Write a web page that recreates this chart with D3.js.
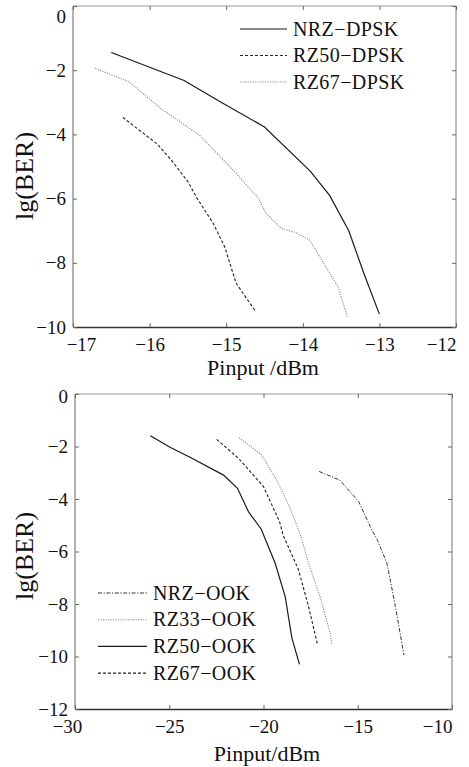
<!DOCTYPE html>
<html>
<head>
<meta charset="utf-8">
<script src="https://cdn.jsdelivr.net/npm/d3@7"></script>
<style>
  body { margin: 0; background: #fff; }
  svg { display: block; }
</style>
</head>
<body>
<script>
// top panel: DPSK
const dpskNames = ['NRZ-DPSK', 'RZ50-DPSK', 'RZ67-DPSK']
const nrzDpskX = [-16.5, -15.55, -15.05, -14.5, -13.9, -13.65, -13.4, -13.2, -13.0]
const nrzDpskY = [-1.45, -2.32, -3.02, -3.77, -5.15, -5.9, -7.0, -8.35, -9.6]
const rz50DpskX = [-16.35, -15.9, -15.7, -15.5, -15.38, -15.17, -15.02, -14.87, -14.62]
const rz50DpskY = [-3.47, -4.3, -4.85, -5.47, -5.99, -6.77, -7.5, -8.64, -9.5]
const rz67DpskX = [-16.71, -16.27, -15.85, -15.35, -14.87, -14.58, -14.48, -14.28, -14.1, -13.91, -13.78, -13.54, -13.42]
const rz67DpskY = [-1.94, -2.36, -3.2, -4.02, -5.21, -5.99, -6.46, -6.93, -7.05, -7.29, -7.81, -8.74, -9.68]
const dpskXTicks = [-17, -16, -15, -14, -13, -12]
const dpskYTicks = [-10, -8, -6, -4, -2, 0]

// bottom panel: OOK
const ookNames = ['NRZ-OOK', 'RZ33-OOK', 'RZ50-OOK', 'RZ67-OOK']
const nrzOokX = [-17.05, -15.95, -14.95, -14.25, -13.95, -13.45, -13.0, -12.55]
const nrzOokY = [-2.95, -3.28, -4.1, -5.18, -5.58, -6.45, -8.1, -9.95]
const rz33OokX = [-21.3, -20.1, -19.3, -18.62, -18.14, -17.96, -17.61, -17.0, -16.46, -16.37]
const rz33OokY = [-1.66, -2.32, -3.28, -4.29, -5.18, -5.56, -6.45, -7.72, -9.12, -9.56]
const rz50OokX = [-26.0, -24.96, -23.9, -22.12, -21.38, -20.8, -20.12, -19.38, -18.85, -18.49, -18.09]
const rz50OokY = [-1.59, -2.03, -2.41, -3.09, -3.59, -4.48, -5.15, -6.45, -7.72, -9.31, -10.3]
const rz67OokX = [-22.48, -21.33, -20.0, -19.15, -18.95, -18.41, -18.14, -17.61, -17.13]
const rz67OokY = [-1.73, -2.45, -3.53, -4.86, -5.4, -6.26, -6.7, -8.1, -9.56]
const ookXTicks = [-30, -25, -20, -15, -10]
const ookYTicks = [-12, -10, -8, -6, -4, -2, 0]

const FONT = '"Liberation Serif", "Times New Roman", serif'
const styles = {
  solid: { stroke: '#1a1a1a', dash: null, w: 1.2 },
  dashed: { stroke: '#222', dash: '3,2', w: 1.1 },
  dotted: { stroke: '#8a8a8a', dash: '1.2,1.3', w: 1.1 },
  dashdot: { stroke: '#333', dash: '4,1.6,1.2,1.6', w: 1 }
}

const svg = d3.select('body').append('svg')
  .attr('width', 469)
  .attr('height', 767)
  .attr('font-family', FONT)
  .style('font-family', FONT)

const zip = (xs, ys) => xs.map((x, i) => [x, ys[i]])
const minus = d => String(d).replace('-', '\u2212')

const label = (sel, size) => sel
  .attr('font-size', size)
  .attr('fill', '#111')
  .style('font-family', FONT)

const panel = cfg => {
  const x = d3.scaleLinear().domain(cfg.xDomain).range(cfg.xRange)
  const y = d3.scaleLinear().domain(cfg.yDomain).range(cfg.yRange)
  const g = svg.append('g')
  const [x0, x1] = cfg.xRange
  const [y0, y1] = cfg.yRange

  // frame
  g.append('line').attr('x1', x0).attr('x2', x1).attr('y1', y1).attr('y2', y1).attr('stroke', '#999')
  g.append('line').attr('x1', x1).attr('x2', x1).attr('y1', y0).attr('y2', y1).attr('stroke', '#777')
  g.append('line').attr('x1', x0).attr('x2', x0).attr('y1', y0).attr('y2', y1).attr('stroke', '#999').attr('stroke-width', 1.5)

  const xAxis = d3.axisBottom(x).tickValues(cfg.xTicks).tickSizeInner(-4).tickSizeOuter(0)
    .tickPadding(10).tickFormat(minus)
  const gx = g.append('g').attr('transform', `translate(0,${y0})`).call(xAxis)
    .attr('font-family', null).attr('font-size', null)
  gx.select('.domain').attr('stroke', '#333').attr('stroke-width', 1.3)
  gx.selectAll('line').attr('stroke', '#666')
  gx.selectAll('text').call(label, 19).attr('dy', '0.75em')
  // first / last labels pulled inside like the original export
  gx.selectAll('.tick text').filter(d => d === cfg.xTicks[0]).attr('dx', cfg.firstShift)
  gx.selectAll('.tick text').filter(d => d === cfg.xTicks[cfg.xTicks.length - 1])
    .attr('text-anchor', 'end').attr('dx', 0)

  const yAxis = d3.axisLeft(y).tickValues(cfg.yTicks).tickSizeInner(-4).tickSizeOuter(0)
    .tickPadding(7).tickFormat(minus)
  const gy = g.append('g').attr('transform', `translate(${x0},0)`).call(yAxis)
    .attr('font-family', null).attr('font-size', null)
  gy.select('.domain').remove()
  gy.selectAll('line').attr('stroke', '#666')
  gy.selectAll('text').call(label, 19)
  gy.selectAll('.tick text').filter(d => d === cfg.yTicks[cfg.yTicks.length - 1]).attr('dy', cfg.topDy)

  // inward ticks on the top and right edges
  g.append('g').attr('transform', `translate(0,${y1})`)
    .call(d3.axisTop(x).tickValues(cfg.xTicks).tickSizeInner(-4).tickSizeOuter(0).tickFormat(''))
    .call(a => a.select('.domain').remove())
    .selectAll('line').attr('stroke', '#666')
  g.append('g').attr('transform', `translate(${x1},0)`)
    .call(d3.axisRight(y).tickValues(cfg.yTicks).tickSizeInner(-4).tickSizeOuter(0).tickFormat(''))
    .call(a => a.select('.domain').remove())
    .selectAll('line').attr('stroke', '#666')

  const line = d3.line().x(d => x(d[0])).y(d => y(d[1]))
  cfg.series.forEach(s => {
    const st = styles[s.style]
    g.append('path')
      .datum(zip(s.xs, s.ys))
      .attr('d', line)
      .attr('fill', 'none')
      .attr('stroke', st.stroke)
      .attr('stroke-width', st.w)
      .attr('stroke-dasharray', st.dash)
  })

  // legend
  cfg.series.forEach((s, i) => {
    const st = styles[s.style]
    const ly = cfg.legend.y + i * cfg.legend.step
    g.append('line')
      .attr('x1', cfg.legend.x).attr('x2', cfg.legend.x + cfg.legend.len)
      .attr('y1', ly).attr('y2', ly)
      .attr('stroke', st.stroke).attr('stroke-width', st.w)
      .attr('stroke-dasharray', st.dash)
    g.append('text')
      .attr('x', cfg.legend.x + cfg.legend.len + 6)
      .attr('y', ly + 6.5)
      .call(label, 20)
      .style('letter-spacing', '0.4px')
      .text(minus(s.name))
  })

  g.append('text')
    .attr('x', cfg.xLabel.x).attr('y', cfg.xLabel.y)
    .attr('text-anchor', 'middle')
    .call(label, 22)
    .text(cfg.xLabel.text)

  g.append('text')
    .attr('transform', `translate(${cfg.yLabel.x},${cfg.yLabel.y}) rotate(-90)`)
    .attr('text-anchor', 'middle')
    .call(label, 26)
    .text('lg(BER)')
}

panel({
  xDomain: [-17, -12], xRange: [73, 456],
  yDomain: [-10, 0], yRange: [327, 6],
  xTicks: dpskXTicks, yTicks: dpskYTicks,
  firstShift: 8, topDy: '0.85em',
  series: [
    { name: dpskNames[0], xs: nrzDpskX, ys: nrzDpskY, style: 'solid' },
    { name: dpskNames[1], xs: rz50DpskX, ys: rz50DpskY, style: 'dashed' },
    { name: dpskNames[2], xs: rz67DpskX, ys: rz67DpskY, style: 'dotted' }
  ],
  legend: { x: 240, y: 29, step: 26.5, len: 47 },
  xLabel: { x: 263, y: 375, text: 'Pinput /dBm' },
  yLabel: { x: 33, y: 176 }
})

panel({
  xDomain: [-30, -10], xRange: [75, 452],
  yDomain: [-12, 0], yRange: [709, 394],
  xTicks: ookXTicks, yTicks: ookYTicks,
  firstShift: -8, topDy: '0.45em',
  series: [
    { name: ookNames[0], xs: nrzOokX, ys: nrzOokY, style: 'dashdot' },
    { name: ookNames[1], xs: rz33OokX, ys: rz33OokY, style: 'dotted' },
    { name: ookNames[2], xs: rz50OokX, ys: rz50OokY, style: 'solid' },
    { name: ookNames[3], xs: rz67OokX, ys: rz67OokY, style: 'dashed' }
  ],
  legend: { x: 98, y: 593, step: 26.7, len: 49 },
  xLabel: { x: 267, y: 761, text: 'Pinput/dBm' },
  yLabel: { x: 33, y: 556 }
})
</script>
</body>
</html>
